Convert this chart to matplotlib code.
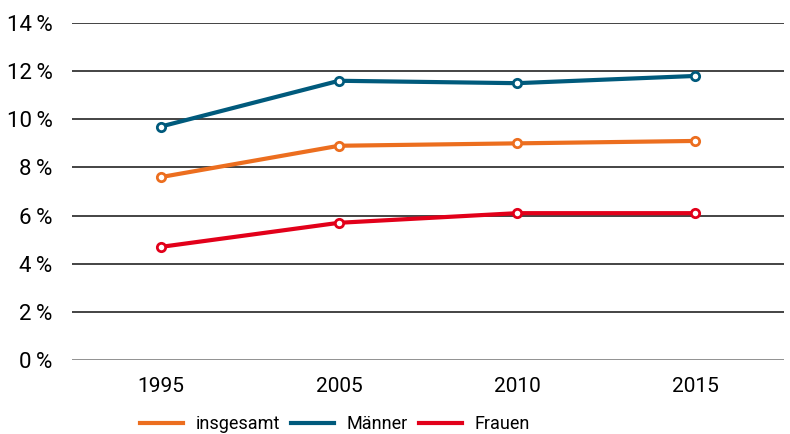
import matplotlib.pyplot as plt
import numpy as np

plt.rcParams['font.family'] = ['Roboto', 'DejaVu Sans']

# data
jahre = ['1995', '2005', '2010', '2015']
insgesamt = [7.6, 8.9, 9.0, 9.1]
maenner = [9.7, 11.6, 11.5, 11.8]
frauen = [4.7, 5.7, 6.1, 6.1]
y_ticks = [0, 2, 4, 6, 8, 10, 12, 14]

fig = plt.figure(figsize=(7.9, 4.34), dpi=100)
ax = fig.add_axes([72 / 790, 74 / 434, 712 / 790, 337 / 434])

x = np.arange(len(jahre))
for werte, farbe, name in [(insgesamt, '#EC6E1F', 'insgesamt'),
                           (maenner, '#005A7C', 'Männer'),
                           (frauen, '#E2001A', 'Frauen')]:
    ax.plot(x, werte, color=farbe, linewidth=3, marker='o', markersize=6,
            markerfacecolor='white', markeredgecolor=farbe, markeredgewidth=2,
            label=name, zorder=3)

ax.set_xlim(-0.5, 3.5)
ax.set_ylim(0, 14)
ax.set_xticks(x)
ax.set_xticklabels(jahre, fontsize=15)
ax.set_yticks(y_ticks)
ax.set_yticklabels([f'{v}\u2009%' for v in y_ticks], fontsize=16)
ax.tick_params(length=0)
ax.tick_params(axis='y', pad=14)
ax.tick_params(axis='x', pad=12)

for v in y_ticks:
    ax.axhline(v, color='#888888' if v == 0 else '#111111',
               linewidth=2 if v == 0 else 1.1, zorder=1)
for s in ax.spines.values():
    s.set_visible(False)

handles, labels = ax.get_legend_handles_labels()
handles = [plt.Line2D([], [], color=h.get_color(), linewidth=3) for h in handles]
fig.legend(handles, labels, loc='center', bbox_to_anchor=(335 / 790, 1 - 424 / 434),
           ncol=3, frameon=False, fontsize=13, handlelength=2.4,
           columnspacing=0.6, handletextpad=0.7)

fig.savefig('out.png', dpi=100)
